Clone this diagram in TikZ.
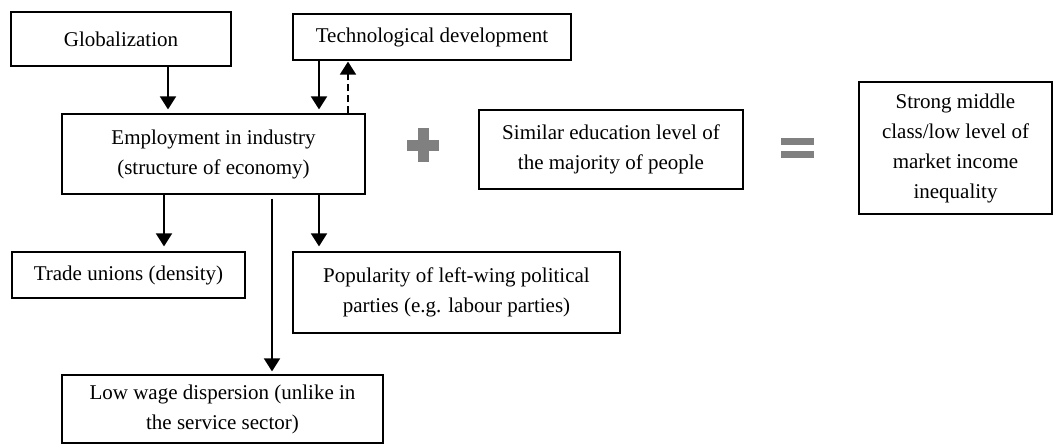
\documentclass[tikz,border=0pt]{standalone}
\usepackage{fontspec}
\setmainfont{Liberation Serif}
\usetikzlibrary{arrows.meta,calc}
\begin{document}
\begin{tikzpicture}[x=1pt,y=-1pt,
 box/.style={draw=black, line width=1.2pt, align=center, inner sep=0pt, font=\fontsize{21}{30}\selectfont},
 arr/.style={line width=1.8pt, -{Triangle[length=13pt,width=16pt]}},
 dasharr/.style={arr, dash pattern=on 7pt off 4pt},
 signfill/.style={fill=black!50}]
\useasboundingbox (0,0) rectangle (1054,445);
\node[box, minimum width=220pt, minimum height=54pt] (glob) at (121,39) {Globalization};
\node[box, minimum width=278pt, minimum height=46pt] (tech) at (432,37) {Technological development};
\node[box, minimum width=303pt, minimum height=80pt] (emp) at (213.5,154) {Employment in industry\\(structure of economy)};
\node[box, minimum width=264pt, minimum height=79pt] (sim) at (611,149.5) {Similar education level of\\the majority of people};
\node[box, minimum width=193pt, minimum height=132pt] (strong) at (955.5,148) {Strong middle\\class/low level of\\market income\\inequality};
\node[box, minimum width=233pt, minimum height=46pt] (trade) at (128.5,275) {Trade unions (density)};
\node[box, minimum width=327pt, minimum height=81pt] (pop) at (456.5,292.5) {Popularity of left-wing political\\parties (e.g. labour parties)};
\node[box, minimum width=321pt, minimum height=68pt] (low) at (222.5,409) {Low wage dispersion (unlike in\\the service sector)};
\coordinate (c168) at (168,0);
\coordinate (c319) at (319,0);
\coordinate (c348) at (348,0);
\coordinate (c164) at (164,0);
\coordinate (c272) at (272,0);
\draw[arr, shorten >=4pt] (glob.south -| c168) -- (emp.north -| c168);
\draw[arr, shorten >=4pt] (tech.south -| c319) -- (emp.north -| c319);
\draw[dasharr, shorten >=1pt] (emp.north -| c348) -- (tech.south -| c348);
\draw[arr, shorten >=5pt] (emp.south -| c164) -- (trade.north -| c164);
\draw[arr, shorten >=5pt] (emp.south -| c319) -- (pop.north -| c319);
\draw[arr, shorten <=4pt, shorten >=3pt] (emp.south -| c272) -- (low.north -| c272);
% plus sign
\fill[signfill] (407,139.5) rectangle (439,150.5);
\fill[signfill] (417.5,128) rectangle (428.5,162);
% equals sign
\fill[signfill] (781,138) rectangle (814,145);
\fill[signfill] (781,150.5) rectangle (814,158);
\end{tikzpicture}
\end{document}
